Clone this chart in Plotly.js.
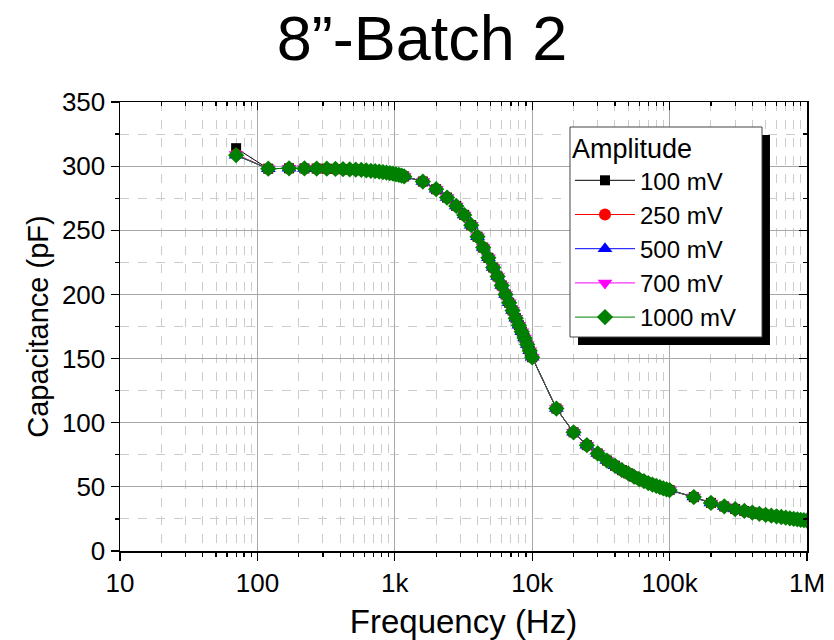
<!DOCTYPE html>
<html>
<head>
<meta charset="utf-8">
<script src="https://cdn.plot.ly/plotly-3.0.1.min.js"></script>
<style>html,body{margin:0;padding:0;background:#fff;}#chart{width:834px;height:640px;}</style>
</head>
<body>
<div id="chart"></div>
<script>
// Frequencies (Hz)
const freq = [
  70,120,170,220,270,320,370,420,470,520,570,620,670,720,770,820,870,920,970,1020,1070,1120,1170,
  1600,2000,2400,2800,3200,3600,4000,4400,4800,5200,5600,6000,6400,6800,7200,7600,8000,8400,8800,9200,9600,10000,
  15000,20000,25000,30000,35000,40000,45000,50000,55000,60000,65000,70000,75000,80000,85000,90000,95000,100000,
  150000,200000,250000,300000,350000,400000,450000,500000,550000,600000,650000,700000,750000,800000,850000,900000,950000,1000000
];
// Capacitance (pF) per amplitude
const c100 = [
  314,298,298.3,298.2,298.1,298,297.8,297.6,297.4,297.2,297,296.7,296.4,296.1,295.8,295.4,295,294.6,294.1,293.6,293.1,292.6,292,
  288,282,275.5,269,262,254,245,236.5,228.5,221,214,207,200,193.5,187.5,181.5,176,171,166,161,156,151,
  111,92.5,82.5,76,70.5,66.5,63,60.5,58,56,54.5,53,51.8,50.7,49.7,48.8,48,47.5,
  42,37.5,34.7,32.7,31.2,30,29,28.2,27.5,27,26.5,26,25.5,25.1,24.7,24.3,24,23.6
];
const c250 = [
  309,298,298.3,298.2,298.1,298,297.8,297.6,297.4,297.2,297,296.7,296.4,296.1,295.8,295.4,295,294.6,294.1,293.6,293.1,292.6,292,
  288,282,275.5,269,262,254,245,236.5,228.5,221,214,207,200,193.5,187.5,181.5,176,171,166,161,156,151,
  111,92.5,82.5,76,70.5,66.5,63,60.5,58,56,54.5,53,51.8,50.7,49.7,48.8,48,47.5,
  42,37.5,34.7,32.7,31.2,30,29,28.2,27.5,27,26.5,26,25.5,25.1,24.7,24.3,24,23.6
];
const c500 = [
  308.5,298,298.3,298.2,298.1,298,297.8,297.6,297.4,297.2,297,296.7,296.4,296.1,295.8,295.4,295,294.6,294.1,293.6,293.1,292.6,292,
  288,282,275.5,269,262,254,245,236.5,228.5,221,214,207,200,193.5,187.5,181.5,176,171,166,161,156,151,
  111,92.5,82.5,76,70.5,66.5,63,60.5,58,56,54.5,53,51.8,50.7,49.7,48.8,48,47.5,
  42,37.5,34.7,32.7,31.2,30,29,28.2,27.5,27,26.5,26,25.5,25.1,24.7,24.3,24,23.6
];
const c700 = [
  309,298,298.3,298.2,298.1,298,297.8,297.6,297.4,297.2,297,296.7,296.4,296.1,295.8,295.4,295,294.6,294.1,293.6,293.1,292.6,292,
  288,282,275.5,269,262,254,245,236.5,228.5,221,214,207,200,193.5,187.5,181.5,176,171,166,161,156,151,
  111,92.5,82.5,76,70.5,66.5,63,60.5,58,56,54.5,53,51.8,50.7,49.7,48.8,48,47.5,
  42,37.5,34.7,32.7,31.2,30,29,28.2,27.5,27,26.5,26,25.5,25.1,24.7,24.3,24,23.6
];
const c1000 = [
  308.5,298,298.3,298.2,298.1,298,297.8,297.6,297.4,297.2,297,296.7,296.4,296.1,295.8,295.4,295,294.6,294.1,293.6,293.1,292.6,292,
  288,282,275.5,269,262,254,245,236.5,228.5,221,214,207,200,193.5,187.5,181.5,176,171,166,161,156,151,
  111,92.5,82.5,76,70.5,66.5,63,60.5,58,56,54.5,53,51.8,50.7,49.7,48.8,48,47.5,
  42,37.5,34.7,32.7,31.2,30,29,28.2,27.5,27,26.5,26,25.5,25.1,24.7,24.3,24,23.6
];
const seriesNames = ['100 mV','250 mV','500 mV','700 mV','1000 mV'];
const xTickVals = [10,100,1000,10000,100000,1000000];
const xTickText = ['10','100','1k','10k','100k','1M'];

const seriesData = [c100,c250,c500,c700,c1000];
const colors = ['#000000','#ff0000','#0000ff','#ff00ff','#008000'];
const symbols = ['square','circle','triangle-up','triangle-down','diamond'];
const sizes = [10,12,13,13,12.5];

const FONT = 'Liberation Sans, Arial, Helvetica, sans-serif';

const traces = seriesData.map((c,i)=>({
  type:'scatter', mode:'lines+markers', x:freq, y:c, name:seriesNames[i],
  xaxis:'x', yaxis:'y',
  legendgroup:'g'+i,
  line:{color:colors[i], width:1},
  marker:{color:colors[i], symbol:symbols[i], size:sizes[i], line:{width:0}}
}));
// empty trace so the mirrored (inside-tick) top/right axes are drawn
traces.push({type:'scatter', mode:'markers', x:[], y:[], xaxis:'x2', yaxis:'y2', showlegend:false, hoverinfo:'skip'});

const layout = {
  width:834, height:640,
  margin:{l:120, r:27, t:102, b:89},
  paper_bgcolor:'#fff', plot_bgcolor:'#fff',
  font:{family:FONT, color:'#000'},
  showlegend:true,
  title:{text:'8\u201d-Batch 2', font:{size:63, family:FONT, color:'#000'}, x:0.506, xref:'container', xanchor:'center', y:1-38/640, yref:'container', yanchor:'middle'},
  xaxis:{
    type:'log', range:[1,6], tickmode:'array', tickvals:xTickVals, ticktext:xTickText,
    tickfont:{size:26, family:FONT}, ticks:'outside', ticklen:8, tickwidth:1.2, tickcolor:'#000',
    showline:true, linecolor:'#000', linewidth:1.5, mirror:true,
    showgrid:true, gridcolor:'#a8a8a8', gridwidth:1, zeroline:false,
    minor:{dtick:'D1', ticks:'outside', ticklen:4, tickcolor:'#000', showgrid:true, gridcolor:'#cccccc', griddash:'dash', gridwidth:1},
    title:{text:'Frequency (Hz)', font:{size:33, family:FONT}, standoff:20}
  },
  xaxis2:{
    type:'log', range:[1,6], overlaying:'x', side:'top', anchor:'y2', tickmode:'array', tickvals:xTickVals,
    showticklabels:false, ticks:'inside', ticklen:8, tickwidth:1.2, tickcolor:'#000',
    showline:false, showgrid:false, zeroline:false,
    minor:{dtick:'D1', ticks:'inside', ticklen:4, tickcolor:'#000', showgrid:false}
  },
  yaxis:{
    range:[0,350], dtick:50, tick0:0,
    tickfont:{size:26, family:FONT}, ticks:'outside', ticklen:8, tickwidth:1.2, tickcolor:'#000',
    showline:true, linecolor:'#000', linewidth:1.5, mirror:true,
    showgrid:true, gridcolor:'#a8a8a8', gridwidth:1, zeroline:false,
    minor:{dtick:25, ticks:'outside', ticklen:4, tickcolor:'#000', showgrid:true, gridcolor:'#cccccc', griddash:'dash', gridwidth:1},
    title:{text:'Capacitance (pF)', font:{size:29, family:FONT}, standoff:5}
  },
  yaxis2:{
    range:[0,350], dtick:50, tick0:0, overlaying:'y', side:'right', anchor:'x2',
    showticklabels:false, ticks:'inside', ticklen:8, tickwidth:1.2, tickcolor:'#000',
    showline:false, showgrid:false, zeroline:false,
    minor:{dtick:25, ticks:'inside', ticklen:4, tickcolor:'#000', showgrid:false}
  },
  legend:{
    x:0.655, y:0.953, xanchor:'left', yanchor:'top',
    bgcolor:'rgba(0,0,0,0)', borderwidth:0,
    font:{size:24, family:FONT, color:'#000'},
    title:{text:'Amplitude', font:{size:27, family:FONT, color:'#000'}},
    tracegroupgap:0, itemwidth:60
  },
  shapes:[
    {type:'rect', xref:'paper', yref:'paper', layer:'above',
     x0:0.6667, x1:0.9461, y0:0.4588, y1:0.9265, fillcolor:'#000', line:{width:0}},
    {type:'rect', xref:'paper', yref:'paper', layer:'above',
     x0:0.655, x1:0.9345, y0:0.4766, y1:0.9443, fillcolor:'#fff', line:{color:'#444', width:1}}
  ]
};

Plotly.newPlot('chart', traces, layout, {staticPlot:true, displayModeBar:false});
</script>
</body>
</html>
